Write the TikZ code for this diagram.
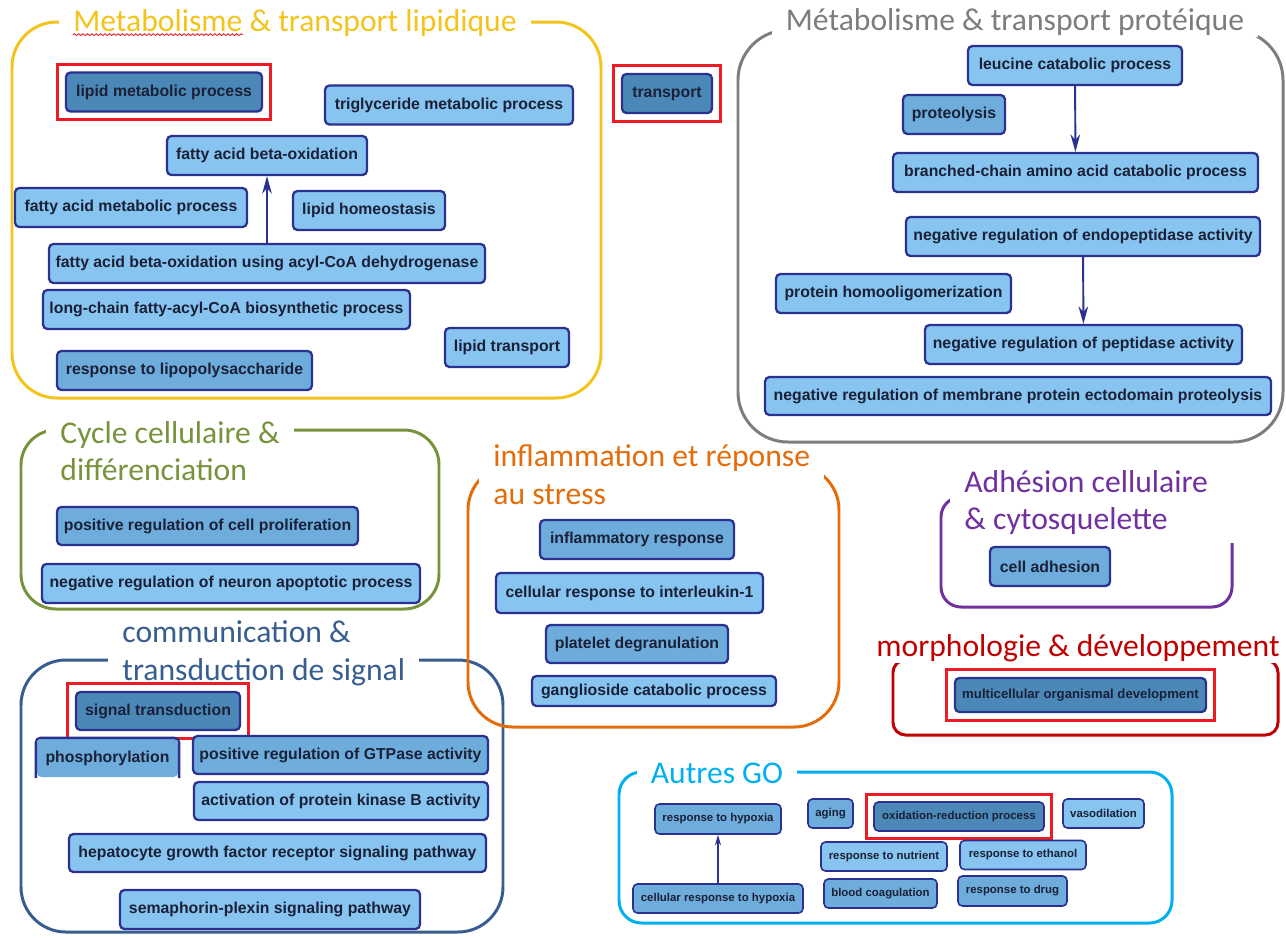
\documentclass[tikz,border=0pt]{standalone}
\usepackage{fontspec}
\setmainfont{Liberation Sans}
\newfontfamily\titlefont{Carlito}
\usepackage{xcolor}
\usepackage{tikz}
\usetikzlibrary{positioning,calc,fit,arrows.meta,decorations.pathmorphing}
\definecolor{GONavy}{RGB}{42,49,144}
\definecolor{GOText}{RGB}{25,32,55}
\definecolor{GOLight}{RGB}{135,196,240}
\definecolor{GOMid}{RGB}{110,172,220}
\definecolor{GODark}{RGB}{75,136,183}
\definecolor{HiliteRed}{RGB}{237,28,36}
\definecolor{LipidGold}{RGB}{243,196,28}
\definecolor{ProtGray}{RGB}{125,125,125}
\definecolor{CycleGreen}{RGB}{119,147,60}
\definecolor{SignalBlue}{RGB}{55,94,142}
\definecolor{StressOrange}{RGB}{228,108,10}
\definecolor{AdhPurple}{RGB}{112,48,160}
\definecolor{MorphRed}{RGB}{192,0,0}
\definecolor{OtherCyan}{RGB}{0,176,240}
\tikzset{
    goterm/.style={draw=GONavy, line width=1.3pt, rounded corners=2.5pt, inner sep=0pt, minimum height=0.78cm, text=GOText, font=\bfseries\fontsize{9}{10}\selectfont},
    golight/.style={goterm, fill=GOLight},
    gomid/.style={goterm, fill=GOMid},
    godark/.style={goterm, fill=GODark},
    hilite/.style={draw=HiliteRed, line width=1.7pt, inner sep=4pt},
    goarrow/.style={draw=GONavy, line width=1.1pt, -{Stealth[length=10pt,width=5.5pt]}}
}

\begin{document}
\begin{tikzpicture}[
    x=0.02cm, y=-0.02cm,
    % cadre d'un groupe
    groupframe/.style={line width=1.7pt, rounded corners=#1},
    % titre d'un groupe (cache le trait du cadre)
    grouptitle/.style={fill=white, inner xsep=8pt, inner ysep=1pt, align=left, font=\titlefont\fontsize{18}{21.5}\selectfont},
    % petits termes du groupe "Autres GO"
    smallterm/.style={minimum height=0.58cm, line width=0.9pt, font=\bfseries\fontsize{6.5}{7.5}\selectfont}
]
\useasboundingbox (0,0) rectangle (1286,938);

% --- Metabolisme & transport lipidique ---
\draw[groupframe=0.9cm, draw=LipidGold] (12,22) rectangle (601,398);
\node[grouptitle, text=LipidGold] (titlelip) at (295,23) {Metabolisme \& transport lipidique};
\draw[HiliteRed, line width=0.5pt, decorate, decoration={snake, amplitude=0.5pt, segment length=2.5pt}]
    ($(titlelip.south west)+(14,-4)$) -- ($(titlelip.south west)+(184,-4)$);
\node[godark, minimum width=3.92cm] (lipmet) at (164,92) {lipid metabolic process};
\node[hilite, fit=(lipmet)] (lipmethl) {};
\node[golight, minimum width=4.96cm] (trigly) at (449,105) {triglyceride metabolic process};
\node[golight, minimum width=4.00cm] (faox) at (267,155.5) {fatty acid beta-oxidation};
\node[golight, minimum width=4.64cm] (famet) at (131,207.5) {fatty acid metabolic process};
\node[golight, minimum width=3.04cm] (liphom) at (369,210.5) {lipid homeostasis};
\node[golight, minimum width=8.72cm] (faoxacyl) at (267,263.5) {fatty acid beta-oxidation using acyl-CoA dehydrogenase};
\node[golight, minimum width=7.34cm] (longchain) at (226.5,309.5) {long-chain fatty-acyl-CoA biosynthetic process};
\node[golight, minimum width=2.48cm] (liptrans) at (507,347.5) {lipid transport};
\node[gomid, minimum width=5.10cm] (lps) at (184.5,370.5) {response to lipopolysaccharide};
\draw[goarrow] (faoxacyl) -- (faox);

% --- transport (hors groupe) ---
\node[godark, minimum width=1.80cm] (transport) at (667,93.5) {transport};
\node[hilite, fit=(transport)] (transporthl) {};

% --- Cycle cellulaire & differenciation ---
\draw[groupframe=0.7cm, draw=CycleGreen] (21,430) rectangle (439,609);
\node[grouptitle, text=CycleGreen, anchor=north west] (titlecyc) at (46,419) {Cycle cellulaire \&\\différenciation};
\node[gomid, minimum width=6.02cm, minimum height=0.76cm] (posprolif) at (207.5,526) {positive regulation of cell proliferation};
\node[golight, minimum width=7.56cm] (negneuron) at (231,583.5) {negative regulation of neuron apoptotic process};

% --- communication & transduction de signal ---
\draw[groupframe=0.9cm, draw=SignalBlue] (21,660) rectangle (503,932);
\node[grouptitle, text=SignalBlue, anchor=north west] (titlesig) at (108,619) {communication \&\\transduction de signal};
\node[godark, minimum width=3.28cm, minimum height=0.76cm] (sigtrans) at (158,711) {signal transduction};
\node[hilite, fit=(sigtrans)] (sigtranshl) {};
% phosphorylation : boite ouverte en bas
\node[gomid, draw=none, minimum width=2.82cm, minimum height=0.76cm] (phospho) at (107.5,758) {phosphorylation};
\draw[GONavy, line width=1.3pt, rounded corners=2.5pt] (phospho.south west) -- (phospho.north west) -- (phospho.north east) -- (phospho.south east);
\node[gomid, minimum width=5.90cm, minimum height=0.76cm] (gtpase) at (340.5,755) {positive regulation of GTPase activity};
\node[golight, minimum width=5.88cm, minimum height=0.76cm] (pkb) at (341,801) {activation of protein kinase B activity};
\node[golight, minimum width=8.34cm, minimum height=0.76cm] (hepato) at (277.5,853) {hepatocyte growth factor receptor signaling pathway};
\node[golight, minimum width=6.00cm] (sema) at (270,909.5) {semaphorin-plexin signaling pathway};

% --- inflammation et reponse au stress ---
\draw[groupframe=0.9cm, draw=StressOrange] (468,465) rectangle (839,727);
\node[grouptitle, text=StressOrange, anchor=north west] (titlestress) at (479,443) {inflammation et réponse\\au stress};
\node[gomid, minimum width=3.88cm] (inflam) at (637,539.5) {inflammatory response};
\node[golight, minimum width=5.34cm, minimum height=0.80cm] (il1) at (629.5,593) {cellular response to interleukin-1};
\node[gomid, minimum width=3.64cm, minimum height=0.76cm] (platelet) at (637,644) {platelet degranulation};
\node[golight, minimum width=4.88cm, minimum height=0.60cm] (gangl) at (654,691) {ganglioside catabolic process};

% --- Adhesion cellulaire & cytosquelette ---
\draw[groupframe=0.4cm, draw=AdhPurple] (1232,543) -- (1232,607) -- (941,607) -- (941,497) -- (965,497);
\node[grouptitle, text=AdhPurple, anchor=north west] (titleadh) at (950,468) {Adhésion cellulaire\\\& cytosquelette};
\node[gomid, minimum width=2.40cm] (celladh) at (1050,566.5) {cell adhesion};

% --- morphologie & developpement ---
\draw[groupframe=0.25cm, draw=MorphRed] (893,660) rectangle (1278,735);
\node[grouptitle, text=MorphRed] (titlemorph) at (1078,648) {morphologie \& développement};
\node[godark, minimum width=5.02cm, minimum height=0.68cm, font=\bfseries\fontsize{7.5}{8.5}\selectfont] (multicell) at (1080.5,695) {multicellular organismal development};
\node[hilite, fit=(multicell)] (multicellhl) {};

% --- Autres GO ---
\draw[groupframe=0.45cm, draw=OtherCyan] (619,772) rectangle (1172,923);
\node[grouptitle, text=OtherCyan] (titleautres) at (717,773) {Autres GO};
\node[gomid, smallterm, minimum width=2.52cm, minimum height=0.60cm] (resphyp) at (718,819) {response to hypoxia};
\node[gomid, smallterm, minimum width=3.40cm] (cellhyp) at (718,898.5) {cellular response to hypoxia};
\node[gomid, smallterm, minimum width=0.90cm] (aging) at (830.5,813.5) {aging};
\node[godark, smallterm, minimum width=3.40cm] (oxred) at (959,816.5) {oxidation-reduction process};
\node[hilite, fit=(oxred)] (oxredhl) {};
\node[golight, smallterm, minimum width=1.62cm] (vasodil) at (1103.5,813.5) {vasodilation};
\node[golight, smallterm, minimum width=2.52cm] (nutrient) at (884,856.5) {response to nutrient};
\node[golight, smallterm, minimum width=2.52cm] (ethanol) at (1023,855) {response to ethanol};
\node[gomid, smallterm, minimum width=2.26cm] (bloodcoag) at (880.5,893.5) {blood coagulation};
\node[gomid, smallterm, minimum width=2.18cm, minimum height=0.60cm] (drug) at (1012.5,891) {response to drug};
\draw[goarrow, line width=0.9pt, -{Stealth[length=6pt,width=3.5pt]}] (cellhyp) -- (resphyp);

% --- Metabolisme & transport proteique ---
\draw[groupframe=1.0cm, draw=ProtGray] (738,30) rectangle (1283,442);
\node[grouptitle, text=ProtGray] (titleprot) at (1015,22) {Métabolisme \& transport protéique};
\node[golight, minimum width=4.28cm] (leucine) at (1075,65.5) {leucine catabolic process};
\node[gomid, minimum width=2.04cm] (proteo) at (954,114.5) {proteolysis};
\node[golight, minimum width=7.30cm] (branched) at (1075.5,172.5) {branched-chain amino acid catabolic process};
\node[golight, minimum width=7.08cm] (negendo) at (1083,236.5) {negative regulation of endopeptidase activity};
\node[golight, minimum width=4.70cm] (homoolig) at (893.5,293.5) {protein homooligomerization};
\node[golight, minimum width=6.34cm] (negpep) at (1083.5,344.5) {negative regulation of peptidase activity};
\node[golight, minimum width=10.12cm, minimum height=0.76cm] (negmemb) at (1018,396) {negative regulation of membrane protein ectodomain proteolysis};
\draw[goarrow] (leucine) -- (branched);
\draw[goarrow] (negendo) -- (negpep);

\end{tikzpicture}
\end{document}
